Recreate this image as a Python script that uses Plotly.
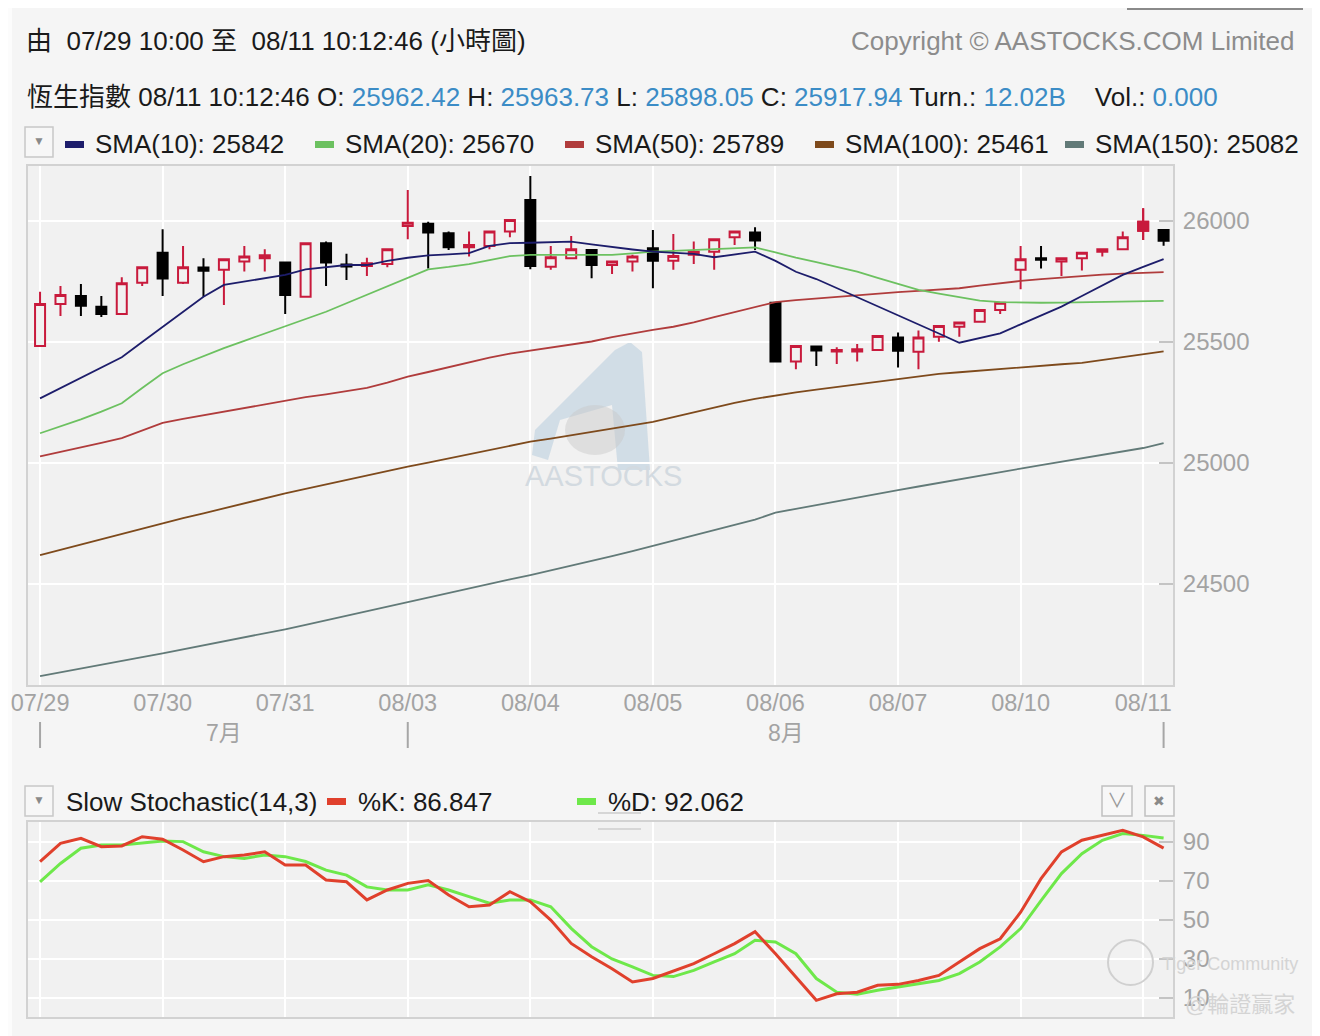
import plotly.graph_objects as go

W, H = 1320, 1036

days = ["07/29", "07/30", "07/31", "08/03", "08/04", "08/05", "08/06", "08/07", "08/10", "08/11"]
hours = ["10:00", "11:00", "12:00", "14:00", "15:00", "16:00"]
months = ["7月", "8月"]

times = []
for d in days[:-1]:
    for h in hours:
        times.append(d + " " + h)
times += [days[-1] + " 10:00", days[-1] + " 11:00"]

opens = [25483, 25657, 25690, 25646, 25616, 25745, 25869, 25745, 25808, 25798,
         25832, 25846, 25828, 25687, 25908, 25820, 25814, 25822, 25979, 25988,
         25949, 25891, 25897, 25956, 26087, 25811, 25846, 25880, 25818, 25832,
         25887, 25836, 25860, 25873, 25933, 25952, 25662, 25419, 25481, 25461,
         25461, 25467, 25519, 25460, 25522, 25563, 25584, 25632, 25798, 25846,
         25832, 25846, 25873, 25883, 25960, 25962.42]
highs = [25708, 25731, 25740, 25690, 25767, 25812, 25966, 25897, 25846, 25845,
         25897, 25883, 25832, 25910, 25915, 25864, 25848, 25886, 26128, 25997,
         25956, 25956, 25958, 26006, 26186, 25897, 25938, 25882, 25834, 25860,
         25963, 25946, 25915, 25926, 25958, 25974, 25664, 25485, 25482, 25478,
         25492, 25527, 25539, 25547, 25568, 25582, 25634, 25664, 25897, 25897,
         25848, 25871, 25885, 25956, 26052, 25963.73]
lows = [25480, 25607, 25607, 25603, 25614, 25731, 25690, 25740, 25687, 25653,
        25791, 25791, 25616, 25685, 25731, 25756, 25773, 25809, 25924, 25804,
        25880, 25853, 25883, 25933, 25800, 25798, 25844, 25763, 25781, 25791,
        25722, 25798, 25822, 25798, 25901, 25880, 25415, 25387, 25401, 25409,
        25419, 25465, 25395, 25387, 25501, 25522, 25582, 25616, 25718, 25804,
        25773, 25795, 25853, 25881, 25921, 25898.05]
closes = [25657, 25694, 25650, 25616, 25743, 25809, 25762, 25809, 25794, 25842,
          25853, 25858, 25694, 25908, 25828, 25812, 25825, 25883, 25993, 25952,
          25891, 25901, 25956, 26004, 25814, 25850, 25883, 25818, 25832, 25853,
          25836, 25855, 25873, 25924, 25956, 25919, 25419, 25483, 25465, 25467,
          25470, 25525, 25464, 25519, 25566, 25580, 25632, 25662, 25842, 25840,
          25846, 25869, 25883, 25933, 25997, 25917.94]

sma10 = [25267, 25310, 25352, 25395, 25437, 25500, 25563, 25625, 25687, 25736,
         25750, 25763, 25777, 25800, 25810, 25818, 25818, 25835, 25848, 25858,
         25862, 25867, 25897, 25908, 25910, 25912, 25915, 25903, 25891, 25882,
         25873, 25868, 25864, 25850, 25862, 25873, 25835, 25790, 25760, 25723,
         25685, 25648, 25610, 25572, 25535, 25497, 25516, 25536, 25573, 25610,
         25646, 25690, 25733, 25777, 25810, 25842]
sma20 = [25123, 25150, 25180, 25212, 25247, 25310, 25371, 25408, 25442, 25475,
         25505, 25535, 25563, 25592, 25625, 25660, 25695, 25729, 25765, 25800,
         25810, 25822, 25838, 25855, 25860, 25860, 25860, 25860, 25860, 25866,
         25873, 25876, 25879, 25883, 25887, 25891, 25870, 25848, 25830, 25810,
         25791, 25765, 25740, 25715, 25700, 25685, 25671, 25665, 25662, 25662,
         25663, 25664, 25665, 25666, 25668, 25670]
sma50 = [25027, 25045, 25064, 25083, 25103, 25135, 25166, 25182, 25197, 25213,
         25228, 25244, 25260, 25272, 25284, 25297, 25310, 25332, 25357, 25376,
         25396, 25415, 25435, 25452, 25465, 25477, 25490, 25502, 25520, 25536,
         25550, 25563, 25581, 25603, 25624, 25646, 25665, 25673, 25680, 25688,
         25695, 25702, 25706, 25711, 25717, 25722, 25733, 25744, 25752, 25760,
         25767, 25774, 25778, 25782, 25786, 25789]
sma100 = [24620, 24642, 24663, 24685, 24706, 24728, 24751, 24772, 24792, 24813,
          24834, 24855, 24875, 24893, 24912, 24930, 24949, 24967, 24985, 25002,
          25019, 25036, 25053, 25071, 25088, 25101, 25115, 25128, 25140, 25155,
          25170, 25190, 25210, 25230, 25248, 25265, 25280, 25292, 25303, 25314,
          25325, 25337, 25348, 25359, 25368, 25375, 25382, 25390, 25396, 25402,
          25408, 25414, 25425, 25437, 25449, 25461]
sma150 = [24120, 24135, 24150, 24166, 24182, 24198, 24214, 24230, 24246, 24263,
          24280, 24296, 24313, 24331, 24350, 24369, 24388, 24408, 24427, 24446,
          24464, 24482, 24500, 24519, 24537, 24556, 24575, 24595, 24615, 24636,
          24657, 24678, 24700, 24722, 24744, 24766, 24795, 24811, 24827, 24843,
          24859, 24874, 24888, 24903, 24918, 24935, 24949, 24963, 24977, 24991,
          25005, 25019, 25033, 25047, 25062, 25082]

k_vals = [80, 89.3, 91.9, 87.6, 88, 92.7, 91.4, 85.9, 79.9, 82.5,
          83.3, 85, 78.2, 78.2, 70.5, 69.6, 60.3, 65.4, 68.8, 70.2,
          62.8, 56.8, 57.7, 64.5, 59.4, 50, 38, 31.2, 25, 18.2,
          20, 24, 27.6, 32.7, 37.9, 44, 32.7, 20.8, 8.8, 12.2,
          13, 16.5, 17, 19, 21.6, 28.5, 35.3, 40.4, 54, 71.2,
          84.9, 90.9, 93.4, 96, 92.6, 86.847]
d_vals = [69.6, 79, 86.8, 88.5, 88.5, 89.6, 90.5, 90.2, 85, 82.5,
          81.6, 83.3, 82.5, 80, 75.6, 73, 67, 65.4, 65.4, 68,
          65.4, 62, 58.6, 60.3, 60.3, 56.8, 45.7, 36.3, 30, 26,
          21.6, 21, 24.2, 28.5, 32.7, 39.6, 38.7, 32.7, 20, 13,
          11.9, 14, 15.6, 17.4, 19, 22.5, 28.5, 36.2, 45.6, 60,
          73.8, 84, 90.9, 94.3, 93.4, 92.062]

sma_names = ["SMA(10)", "SMA(20)", "SMA(50)", "SMA(100)", "SMA(150)"]
sma_colors = ["#1d1d6b", "#6cc160", "#b03c3c", "#7e4a1c", "#627a78"]
turnover = "12.02B"
volume = "0.000"

UP = "#c81a3c"
BLUE = "#3b8cc6"
PLOT_BG = "#f1f1f1"
FONT = "Liberation Sans, Arial, Noto Sans CJK TC, sans-serif"

# the page puts the figure 8px in from the top-left corner
OX, OY = 8, 8


def px(x):
    return (x - OX) / W


def py(y):
    return 1 - (y - OY) / H


fig = go.Figure()

# SMA lines
for vals, col in zip([sma150, sma100, sma50, sma20, sma10], sma_colors[::-1]):
    fig.add_trace(go.Scatter(x=times, y=vals, mode="lines",
                             line=dict(color=col, width=1.8),
                             xaxis="x", yaxis="y"))

fig.add_trace(go.Candlestick(
    x=times, open=opens, high=highs, low=lows, close=closes,
    increasing=dict(line=dict(color=UP, width=2), fillcolor=PLOT_BG),
    decreasing=dict(line=dict(color="black", width=2), fillcolor="black"),
    xaxis="x", yaxis="y"))
# the live bar is drawn filled
last = 54
fig.add_trace(go.Candlestick(
    x=[times[last]], open=[opens[last]], high=[highs[last]],
    low=[lows[last]], close=[closes[last]],
    increasing=dict(line=dict(color=UP, width=2), fillcolor=UP),
    decreasing=dict(line=dict(color=UP, width=2), fillcolor=UP),
    xaxis="x", yaxis="y"))

fig.add_trace(go.Scatter(x=times, y=d_vals, mode="lines",
                         line=dict(color="#6ee84a", width=3), xaxis="x2", yaxis="y2"))
fig.add_trace(go.Scatter(x=times, y=k_vals, mode="lines",
                         line=dict(color="#e0402c", width=3), xaxis="x2", yaxis="y2"))

day_ticks = [d + " 10:00" for d in days]
common_x = dict(type="category", range=[-0.59, 55.46], domain=[px(28), px(1173)],
                showgrid=True, gridcolor="#ffffff", gridwidth=1.5,
                tickvals=day_ticks, showline=True, mirror=True, automargin=False,
                linecolor="#d2d2d2", linewidth=2, zeroline=False, ticks="",
                rangeslider=dict(visible=False), fixedrange=True)
common_y = dict(side="right", showgrid=True, gridcolor="#ffffff", gridwidth=1.5,
                ticks="inside", ticklen=14, tickwidth=2, tickcolor="#c4c4c4",
                showline=True, mirror=True, linecolor="#d2d2d2", linewidth=2,
                zeroline=False, tickformat="d", automargin=False, ticklabelstandoff=3,
                tickfont=dict(family=FONT, size=24, color="#a3a3a3"))

fig.update_layout(
    template="none",
    width=W, height=H, margin=dict(l=0, r=0, t=0, b=0, pad=0),
    paper_bgcolor="#f5f5f5", plot_bgcolor=PLOT_BG,
    showlegend=False, hovermode=False,
    font=dict(family=FONT),
    xaxis=dict(common_x, anchor="y", ticktext=days, ticklabelstandoff=-4,
               tickfont=dict(family=FONT, size=23.5, color="#a3a3a3")),
    yaxis=dict(common_y, anchor="x", domain=[py(685), py(166)],
               range=[24083, 26227], tickvals=[24500, 25000, 25500, 26000]),
    xaxis2=dict(common_x, anchor="y2", showticklabels=False),
    yaxis2=dict(common_y, anchor="x2", domain=[py(1017), py(822)],
                range=[0.26, 100.26], tickvals=[10, 30, 50, 70, 90]),
)

shapes = []
ann = []


def text(x, y, s, size=26, color="#1a1a1a", anchor="left"):
    ann.append(dict(x=px(x), y=py(y), xref="paper", yref="paper", text=s,
                    showarrow=False, xanchor=anchor, yanchor="middle",
                    font=dict(family=FONT, size=size, color=color)))


def rect(x0, y0, x1, y1, line="#c4c4c4", fill="rgba(0,0,0,0)", width=1.5, layer="above"):
    shapes.append(dict(type="rect", xref="paper", yref="paper",
                       x0=px(x0), y0=py(y0), x1=px(x1), y1=py(y1),
                       line=dict(color=line, width=width), fillcolor=fill, layer=layer))


# pale strip at the left edge
rect(8, 0, 12, H + 20, line="rgba(0,0,0,0)", fill="#fcfcfc", width=0, layer="below")

# header
text(24, 41, "由\u00a0 07/29 10:00 至\u00a0 08/11 10:12:46 (小時圖)")
text(1297, 41, "Copyright © AASTOCKS.COM Limited", color="#8c8c8c", anchor="right")


def blue(v):
    return "<span style='color:%s'>%s</span>" % (BLUE, v)


line2 = ("恆生指數 08/11 10:12:46 O: " + blue("%.2f" % opens[-1]) +
         " H: " + blue("%.2f" % highs[-1]) + " L: " + blue("%.2f" % lows[-1]) +
         " C: " + blue("%.2f" % closes[-1]) + " Turn.: " + blue(turnover) +
         "\u00a0\u00a0\u00a0 Vol.: " + blue(volume))
text(25, 97, line2)

# SMA legend
smas = [sma10, sma20, sma50, sma100, sma150]
rect(25, 127, 53, 157, line="#c8c8c8", fill="#f7f7f7")
text(39, 141, "▼", size=12, color="#8a8a8a", anchor="center")
for j, (name, col, vals) in enumerate(zip(sma_names, sma_colors, smas)):
    x0 = 65 + 250 * j
    rect(x0, 141, x0 + 19, 148, line=col, fill=col, width=0)
    text(x0 + 28, 144, "%s: %.0f" % (name, vals[-1]))

# top-right partial buttons
rect(1128, -20, 1302, 9, line="#8a8a8a", fill="#f7f7f7", width=2)
rect(1244, -20, 1302, 9, line="#8a8a8a", fill="#d0d0d0", width=2)
rect(1186, -20, 1244, 9, line="#8a8a8a", width=2)

# month row under the x axis
m_start = [0, times.index("08/03 10:00")]
m_end = m_start[1:] + [len(times) - 1]
for s in m_start + [m_end[-1]]:
    shapes.append(dict(type="line", xref="x", yref="paper", x0=s, x1=s,
                       y0=py(722), y1=py(748), line=dict(color="#a6a6a6", width=2)))
for m, s, e in zip(months, m_start, m_end):
    ann.append(dict(x=(s + e) / 2, y=py(733), xref="x", yref="paper", text=m,
                    showarrow=False, xanchor="center", yanchor="middle",
                    font=dict(family=FONT, size=23, color="#a3a3a3")))

# stochastic legend
rect(25, 786, 53, 816, line="#c8c8c8", fill="#f7f7f7")
text(39, 800, "▼", size=12, color="#8a8a8a", anchor="center")
text(64, 802, "Slow Stochastic(14,3)")
rect(327, 798, 346, 805, line="#e0402c", fill="#e0402c", width=0)
text(356, 802, "%%K: %.3f" % k_vals[-1])
rect(577, 798, 596, 805, line="#6ee84a", fill="#6ee84a", width=0)
text(606, 802, "%%D: %.3f" % d_vals[-1])
rect(1102, 786, 1132, 816, line="#c0c0c0", fill="#f7f7f7")
text(1117, 801, "∨", size=20, color="#9a9a9a", anchor="center")
rect(1145, 786, 1174, 816, line="#c0c0c0", fill="#f7f7f7")
text(1159, 801, "✖", size=14, color="#8a8a8a", anchor="center")
shapes.append(dict(type="line", xref="paper", yref="paper", x0=px(598), x1=px(641),
                   y0=py(813), y1=py(813), line=dict(color="#d6d6d6", width=2)))
shapes.append(dict(type="line", xref="paper", yref="paper", x0=px(598), x1=px(641),
                   y0=py(829), y1=py(829), line=dict(color="#d6d6d6", width=2)))

# AASTOCKS watermark
pts = [(532, 455), (535, 430), (615, 350), (630, 342), (642, 352), (650, 470),
       (618, 470), (612, 405), (560, 420), (548, 460)]
path = "M " + " L ".join("%f,%f" % (px(a), py(b)) for a, b in pts) + " Z"
shapes.append(dict(type="path", xref="paper", yref="paper", path=path,
                   fillcolor="rgba(170,198,218,0.45)", line=dict(width=0), layer="below"))
shapes.append(dict(type="circle", xref="paper", yref="paper",
                   x0=px(565), y0=py(455), x1=px(625), y1=py(405),
                   fillcolor="rgba(200,200,200,0.45)", line=dict(width=0), layer="below"))
text(603, 476, "AASTOCKS", size=29, color="#d3dae0", anchor="center")

# forum watermark
shapes.append(dict(type="circle", xref="paper", yref="paper",
                   x0=px(1108), y0=py(985), x1=px(1153), y1=py(940),
                   line=dict(color="#d0d0d0", width=2)))
text(1160, 964, "Tiger Community", size=18, color="#d4d4d4")
text(1183, 1004, "@輪證贏家", size=22, color="#d4d4d4")

fig.update_layout(shapes=shapes, annotations=ann)
fig.write_html("out.html")
